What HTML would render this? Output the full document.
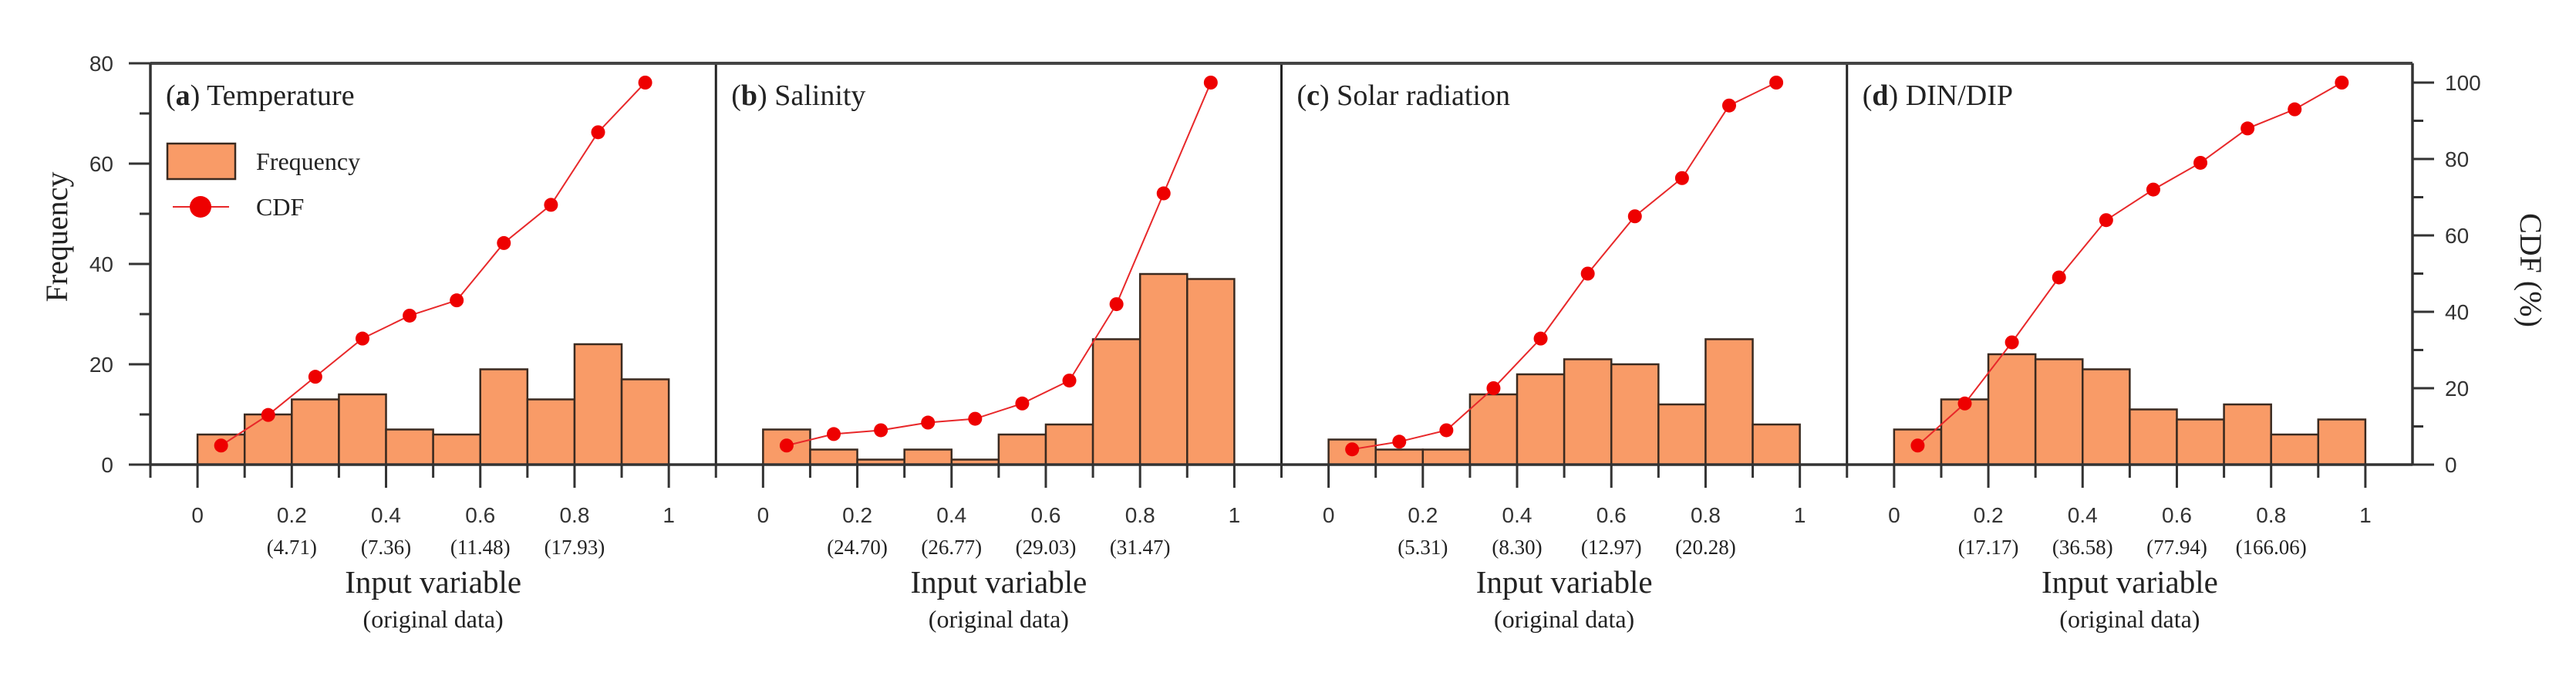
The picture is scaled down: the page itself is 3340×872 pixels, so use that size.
<!DOCTYPE html>
<html><head><meta charset="utf-8"><style>
html,body{margin:0;padding:0;background:#fff;}
svg{display:block;}
.tk{font-family:"Liberation Sans",sans-serif;font-size:28px;fill:#333;}
.sr{font-family:"Liberation Serif",serif;fill:#222;}
</style></head><body>
<svg id="chart" width="3340" height="872" viewBox="0 0 3340 872" xmlns="http://www.w3.org/2000/svg">
<g id="plot"></g>
</svg>
<script>
const panelTitlesLetter = ["a","b","c","d"];
const panelTitles = ["Temperature","Salinity","Solar radiation","DIN/DIP"];
const binStarts = [0,0.1,0.2,0.3,0.4,0.5,0.6,0.7,0.8,0.9];
const freqA = [6,10,13,14,7,6,19,13,24,17];
const freqB = [7,3,1,3,1,6,8,25,38,37];
const freqC = [5,3,3,14,18,21,20,12,25,8];
const freqD = [7,13,22,21,19,11,9,12,6,9];
const cdfA = [5,13,23,33,39,43,58,68,87,100];
const cdfB = [5,8,9,11,12,16,22,42,71,100];
const cdfC = [4,6,9,20,33,50,65,75,94,100];
const cdfD = [5,16,32,49,64,72,79,88,93,100];
const xTicks = [0,0.2,0.4,0.6,0.8,1];
const xTickLabels = ["0","0.2","0.4","0.6","0.8","1"];
const origA = ["","(4.71)","(7.36)","(11.48)","(17.93)",""];
const origB = ["","(24.70)","(26.77)","(29.03)","(31.47)",""];
const origC = ["","(5.31)","(8.30)","(12.97)","(20.28)",""];
const origD = ["","(17.17)","(36.58)","(77.94)","(166.06)",""];
const freqTicks = [0,20,40,60,80];
const cdfTicks = [0,20,40,60,80,100];

const freqs=[freqA,freqB,freqC,freqD], cdfs=[cdfA,cdfB,cdfC,cdfD], origs=[origA,origB,origC,origD];
const NS="http://www.w3.org/2000/svg";
const SERIF='"Liberation Serif", serif';
const g=document.getElementById('plot');
const L=195,R=3128,T=82,B=602,PW=(R-L)/4;
const yF=v=>B-(v/80)*(B-T);
const yC=v=>B-(v/100)*(B-107);
function xS(p,v){return L+p*PW+(v+0.1)/1.2*PW;}
function mk(tag,attrs,parent){const e=document.createElementNS(NS,tag);for(const k in attrs)e.setAttribute(k,attrs[k]);(parent||g).appendChild(e);return e;}

for(let p=0;p<4;p++){
  const pg=mk('g',{});
  
  
  binStarts.forEach((b,i)=>{
    const x0=xS(p,b),x1=xS(p,b+0.1),y=yF(freqs[p][i]);
    const r=mk('rect',{x:x0,y:y,width:x1-x0,height:B-y,fill:'#f99b67',stroke:'#3a2a20','stroke-width':2.5},pg);
    
    
  });
  const pts=binStarts.map((b,i)=>xS(p,b+0.05)+','+yC(cdfs[p][i])).join(' ');
  const pl=mk('polyline',{points:pts,fill:'none',stroke:'#e8282a','stroke-width':2},pg);
  
  
  binStarts.forEach((b,i)=>{
    const c=mk('circle',{cx:xS(p,b+0.05),cy:yC(cdfs[p][i]),r:9,fill:'#ee0000'},pg);
    
    
  });
  for(let k=0;k<=10;k++){
    const v=k/10,x=xS(p,v);
    mk('line',{x1:x,x2:x,y1:B,y2:B+(k%2==0?30:17),stroke:'#333','stroke-width':3},pg);
  }
  mk('line',{x1:L+p*PW,x2:L+p*PW,y1:B,y2:B+17,stroke:'#333','stroke-width':3},pg);
  xTicks.forEach((v,i)=>{
    const t=mk('text',{x:xS(p,v),y:677,'text-anchor':'middle','class':'tk'},pg);
    t.textContent=xTickLabels[i];
    
    
    if(origs[p][i]){
      const s=mk('text',{x:xS(p,v),y:718,'text-anchor':'middle','font-family':SERIF,fill:'#222','font-size':27},pg);
      s.textContent=origs[p][i];
      
      
    }
  });
  const cx=L+p*PW+PW/2;
  const xt=mk('text',{x:cx,y:768,'text-anchor':'middle','font-family':SERIF,fill:'#222','font-size':41},pg);
  xt.textContent='Input variable';
  
  
  const xs=mk('text',{x:cx,y:813,'text-anchor':'middle','font-family':SERIF,fill:'#222','font-size':32},pg);
  xs.textContent='(original data)';
  
  
  const tt=mk('text',{x:L+p*PW+20,y:136,'font-family':SERIF,fill:'#222','font-size':38},pg);
  
  
  const t1=mk('tspan',{},tt);t1.textContent='(';
  const t2=mk('tspan',{'font-weight':'bold'},tt);t2.textContent=panelTitlesLetter[p];
  const t3=mk('tspan',{},tt);t3.textContent=') '+panelTitles[p];
  if(p>0)mk('line',{x1:L+p*PW,x2:L+p*PW,y1:T,y2:B,stroke:'#222','stroke-width':3},pg);
}
mk('line',{x1:L,x2:R,y1:T,y2:T,stroke:'#444','stroke-width':4});
mk('line',{x1:L,x2:R,y1:B,y2:B,stroke:'#333','stroke-width':3.5});
mk('line',{x1:L,x2:L,y1:T,y2:B,stroke:'#333','stroke-width':3.5});
mk('line',{x1:R,x2:R,y1:T,y2:B,stroke:'#333','stroke-width':3.5});
for(let v=0;v<=80;v+=10){
  mk('line',{x1:L-(v%20==0?28:14),x2:L,y1:yF(v),y2:yF(v),stroke:'#333','stroke-width':3});
}
freqTicks.forEach(v=>{
  const t=mk('text',{x:147,y:yF(v)+10,'text-anchor':'end','class':'tk'});
  t.textContent=v;
  
  
});
for(let v=0;v<=100;v+=10){
  mk('line',{x1:R,x2:R+(v%20==0?28:14),y1:yC(v),y2:yC(v),stroke:'#333','stroke-width':3});
}
cdfTicks.forEach(v=>{
  const t=mk('text',{x:3170,y:yC(v)+10,'text-anchor':'start','class':'tk'});
  t.textContent=v;
  
  
});
</script>
<svg style="position:absolute;left:0;top:0" width="3340" height="872">
<text font-family="Liberation Serif, serif" fill="#222" font-size="40" text-anchor="middle" transform="translate(87,307) rotate(-90)">Frequency</text>
<text font-family="Liberation Serif, serif" fill="#222" font-size="40" text-anchor="middle" transform="translate(3268,350) rotate(90)">CDF (%)</text>
<g>
<rect x="217" y="186" width="88" height="46" fill="#f99b67" stroke="#3a2a20" stroke-width="2.5"/>
<text font-family="Liberation Serif, serif" fill="#222" font-size="32" x="332" y="220">Frequency</text>
<line x1="224" x2="297" y1="268" y2="268" stroke="#e8282a" stroke-width="2"/>
<circle cx="260" cy="268" r="14" fill="#ee0000"/>
<text font-family="Liberation Serif, serif" fill="#222" font-size="32" x="332" y="279">CDF</text>
</g>
</svg>
</body></html>
